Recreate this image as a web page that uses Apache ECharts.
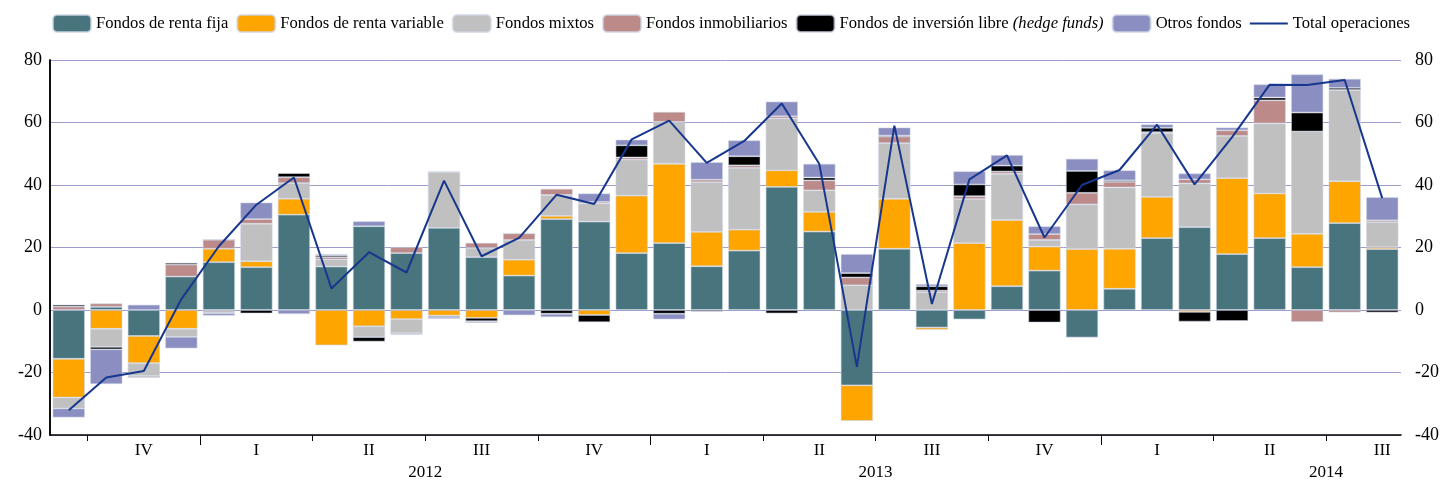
<!DOCTYPE html>
<html>
<head>
<meta charset="utf-8">
<script src="https://cdn.jsdelivr.net/npm/echarts@6/dist/echarts.min.js"></script>
<style>
  html, body { margin: 0; padding: 0; background: #fff; }
  .chart { width: 1442px; height: 481px; }
</style>
</head>
<body>
<div class="chart"></div>
<script>
// meses (sep-2011 .. ago-2014)
var months = ['sep-11','oct-11','nov-11','dic-11',
  'ene-12','feb-12','mar-12','abr-12','may-12','jun-12','jul-12','ago-12','sep-12','oct-12','nov-12','dic-12',
  'ene-13','feb-13','mar-13','abr-13','may-13','jun-13','jul-13','ago-13','sep-13','oct-13','nov-13','dic-13',
  'ene-14','feb-14','mar-14','abr-14','may-14','jun-14','jul-14','ago-14'];
var quarters = ['IV','I','II','III','IV','I','II','III','IV','I','II','III'];
var years = ['2012','2013','2014'];

var rentaFija = [-15.6, 1.0, -8.3, 10.7, 15.3, 13.7, 30.5, 13.9, 26.8, 18.2, 26.3, 16.9,
  11.0, 29.1, 28.3, 18.2, 21.4, 14.0, 19.0, 39.4, 25.1, -24.1, 19.6, -5.6,
  -3.0, 7.6, 12.6, -8.8, 6.8, 23.0, 26.5, 17.9, 23.0, 13.7, 27.8, 19.5];
var rentaVariable = [-12.4, -6.0, -8.7, -6.0, 4.3, 1.9, 5.1, -11.3, -5.2, -2.9, -1.8, -2.5,
  5.1, 1.0, -1.6, 18.4, 25.4, 11.0, 6.7, 5.3, 6.3, -11.4, 16.0, -0.7,
  21.4, 21.2, 7.7, 19.5, 12.8, 13.2, -0.6, 24.3, 14.3, 10.7, 13.4, 0.6];
var mixtos = [-3.5, -5.8, -4.1, -2.6, -1.0, 12.0, 5.0, 2.3, -3.5, -4.5, 17.9, 3.0,
  6.3, 6.7, 5.8, 11.5, 13.4, 15.9, 19.8, 16.6, 6.9, 7.9, 17.8, 5.7,
  14.1, 14.8, 2.1, 14.3, 19.6, 20.4, 14.0, 13.5, 22.4, 32.7, 29.2, 8.0];
var inmobiliarios = [1.1, 1.1, -0.5, 3.8, 2.9, 1.5, 1.9, 0.7, 0, 1.9, 0, 1.6,
  2.1, 2.0, 0.5, 0.7, 3.2, 0.8, 0.8, 0.7, 3.2, 2.5, 2.1, 0.5,
  0.9, 0.7, 1.9, 3.7, 1.8, 0.3, 1.3, 1.8, 7.4, -3.8, -0.8, 0.6];
var libre = [0.6, -0.8, 0, 0.6, 0, -1.1, 1.3, 0.6, -1.4, -0.3, -0.4, -1.1,
  0, -1.2, -2.3, 3.9, -1.2, -0.5, 2.9, -1.1, 0.9, 1.4, 0.3, 1.4,
  3.8, 1.9, -4.0, 7.0, 0.5, 1.4, -3.1, -3.5, 0.9, 6.1, 0.7, -0.8];
var otros = [-2.9, -11.1, 1.7, -3.7, -0.8, 5.3, -1.3, 0.3, 1.6, -0.3, -0.6, -0.5,
  -1.7, -1.1, 2.7, 1.8, -1.8, 5.6, 5.1, 4.7, 4.4, 6.1, 2.6, 0.7,
  4.2, 3.4, 2.5, 3.9, 3.2, 1.1, 1.9, 0.9, 4.2, 12.2, 2.9, 7.4];
var total = [-32.1, -21.6, -19.5, 3.5, 20.4, 33.7, 42.4, 6.9, 18.5, 12.0, 41.4, 17.2,
  23.1, 36.9, 33.9, 54.6, 60.6, 47.1, 54.1, 66.1, 46.7, -18.2, 59.0, 1.9,
  41.8, 49.5, 23.2, 40.0, 44.8, 59.3, 40.2, 55.3, 72.1, 72.0, 73.6, 35.8];

// cortes del eje: inicio de año y de trimestre (en posiciones de mes)
var yearStarts = [4, 16, 28];
var quarterStarts = [1, 7, 10, 13, 19, 22, 25, 31, 34];
var yearCenters = [10, 22, 34];

var chart = echarts.init(document.querySelector('.chart'));

var font = 'Liberation Serif';
var border = 'rgba(205,212,228,0.7)';

function barSeries(name, data, color) {
  return {
    name: name,
    type: 'bar',
    stack: 'fondos',
    data: data,
    barCategoryGap: '14%',
    itemStyle: { color: color, borderColor: border, borderWidth: 0.8 }
  };
}

// eje auxiliar de valores (0..36) para marcas largas y etiquetas de año
function markAxis(ticks, len, labels) {
  return {
    type: 'value',
    min: 0,
    max: 36,
    position: 'bottom',
    axisLine: { show: false, onZero: false },
    axisTick: { show: true, customValues: ticks, length: len, lineStyle: { color: '#000' } },
    axisLabel: labels ? {
      customValues: yearCenters,
      margin: 29,
      fontFamily: font,
      fontSize: 17,
      color: '#000',
      formatter: function (v) { return years[(v - 10) / 12]; }
    } : { show: false },
    splitLine: { show: false }
  };
}

var option = {
  animation: false,
  backgroundColor: '#fff',
  textStyle: { fontFamily: font },
  legend: {
    left: 52,
    top: 14,
    padding: 0,
    itemWidth: 38,
    itemHeight: 17,
    itemGap: 8,
    textStyle: {
      fontFamily: font, fontSize: 16.6, color: '#000',
      rich: {
        n: { fontFamily: font, fontSize: 16.6, color: '#000' },
        i: { fontFamily: font, fontSize: 16.6, color: '#000', fontStyle: 'italic' }
      }
    },
    formatter: function (name) {
      if (name === 'Fondos de inversión libre') {
        return '{n|Fondos de inversión libre }{i|(hedge funds)}';
      }
      return name;
    },
    data: ['Fondos de renta fija', 'Fondos de renta variable', 'Fondos mixtos',
      'Fondos inmobiliarios', 'Fondos de inversión libre', 'Otros fondos',
      { name: 'Total operaciones', icon: 'path://M0,0 L38,0 L38,2 L0,2 Z' }]
  },
  grid: { left: 50, right: 37, top: 60, bottom: 43 },
  xAxis: [
    {
      type: 'category',
      data: months,
      boundaryGap: true,
      axisLine: { onZero: false, lineStyle: { color: '#000', width: 1.5 } },
      axisTick: { interval: 0, length: 3, lineStyle: { color: '#000' } },
      axisLabel: {
        interval: 0,
        margin: 7,
        fontFamily: font,
        fontSize: 17,
        color: '#000',
        formatter: function (v, i) {
          return i % 3 === 2 ? quarters[(i - 2) / 3] : '';
        }
      },
      splitLine: { show: false }
    },
    markAxis(yearStarts, 10, true),
    markAxis(quarterStarts, 6, false)
  ],
  yAxis: [
    {
      type: 'value',
      min: -40,
      max: 80,
      interval: 20,
      axisLine: { show: true, lineStyle: { color: '#000', width: 1.5 } },
      axisTick: { show: false },
      axisLabel: { margin: 8, fontFamily: font, fontSize: 18, color: '#000' },
      splitLine: { lineStyle: { color: '#9c9ccf', width: 1 } }
    },
    {
      type: 'value',
      position: 'right',
      min: -40,
      max: 80,
      interval: 20,
      axisLine: { show: true, lineStyle: { color: '#000', width: 1.5 } },
      axisTick: { show: false },
      axisLabel: { margin: 14, fontFamily: font, fontSize: 18, color: '#000' },
      splitLine: { show: false }
    }
  ],
  series: [
    barSeries('Fondos de renta fija', rentaFija, '#48757d'),
    barSeries('Fondos de renta variable', rentaVariable, '#ffa500'),
    barSeries('Fondos mixtos', mixtos, '#c0c0c0'),
    barSeries('Fondos inmobiliarios', inmobiliarios, '#bc8a88'),
    barSeries('Fondos de inversión libre', libre, '#000000'),
    barSeries('Otros fondos', otros, '#8b8ec0'),
    {
      name: 'Total operaciones',
      type: 'line',
      data: total,
      symbol: 'none',
      z: 5,
      lineStyle: { color: '#17378e', width: 2 },
      itemStyle: { color: '#17378e' }
    }
  ]
};

chart.setOption(option);
</script>
</body>
</html>
